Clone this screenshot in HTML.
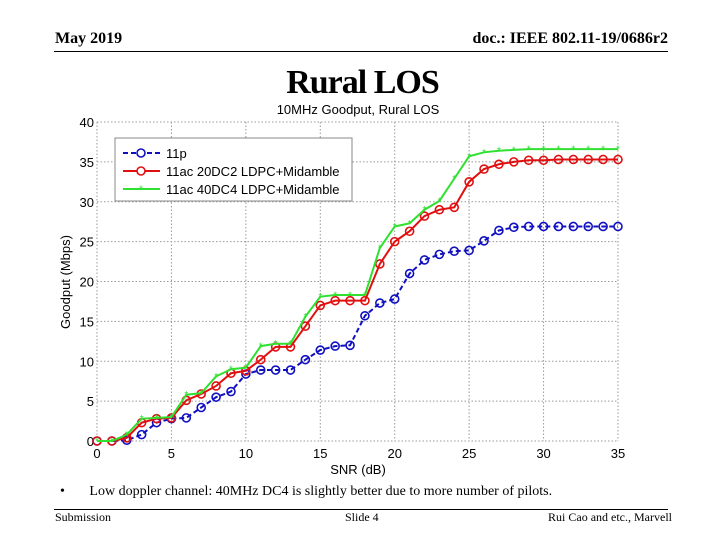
<!DOCTYPE html>
<html><head><meta charset="utf-8"><style>
body{margin:0;background:#fff;width:720px;height:540px;overflow:hidden;position:relative;font-family:"Liberation Serif",serif}
.t{position:absolute;white-space:nowrap}
</style></head><body>
<div class="t" style="left:55px;top:30px;font-size:16px;font-weight:bold">May 2019</div>
<div class="t" style="right:52px;top:30px;font-size:16px;font-weight:bold">doc.: IEEE 802.11-19/0686r2</div>
<div style="position:absolute;left:54px;top:51px;width:614px;height:1px;background:#000"></div>
<div class="t" style="left:0;width:725px;text-align:center;top:64px;font-size:34px;font-weight:bold;letter-spacing:-1px">Rural LOS</div>
<svg id="c" width="720" height="540" style="position:absolute;left:0;top:0" font-family="Liberation Sans, sans-serif"></svg>
<div class="t" style="left:60px;top:484px;font-size:14px">•&nbsp;&nbsp;&nbsp;&nbsp;&nbsp;&nbsp; Low doppler channel: 40MHz DC4 is slightly better due to more number of pilots.</div>
<div style="position:absolute;left:54px;top:509px;width:614px;height:1px;background:#000"></div>
<div class="t" style="left:55px;top:510px;font-size:12px">Submission</div>
<div class="t" style="left:345px;top:510px;font-size:12px">Slide 4</div>
<div class="t" style="right:48px;top:510px;font-size:12px">Rui Cao and etc., Marvell</div>
<script>
const snr=[0,1,2,3,4,5,6,7,8,9,10,11,12,13,14,15,16,17,18,19,20,21,22,23,24,25,26,27,28,29,30,31,32,33,34,35];
const s11p=[0,0,0.1,0.8,2.3,2.8,2.9,4.2,5.5,6.2,8.4,8.9,8.9,8.9,10.2,11.4,11.9,12.0,15.7,17.3,17.8,21.0,22.7,23.4,23.8,23.9,25.1,26.4,26.8,26.9,26.9,26.9,26.9,26.9,26.9,26.9];
const s20dc2=[0,0,0.4,2.3,2.8,2.9,5.1,5.9,6.9,8.5,8.8,10.2,11.8,11.8,14.4,17.0,17.6,17.6,17.6,22.2,25.0,26.3,28.2,29.0,29.3,32.5,34.1,34.7,35.0,35.2,35.2,35.3,35.3,35.3,35.3,35.3];
const s40dc4=[0,0,0.8,2.8,2.9,3.0,5.8,6.0,8.1,9.0,9.2,11.9,12.2,12.2,15.6,18.1,18.3,18.3,18.3,24.2,26.9,27.3,29.0,30.1,32.9,35.7,36.2,36.4,36.5,36.6,36.6,36.6,36.6,36.6,36.6,36.6];
const xTicks=[0,5,10,15,20,25,30,35];
const yTicks=[0,5,10,15,20,25,30,35,40];
const X0=97,X1=618,Y0=441,Y1=122;
const sx=v=>X0+(v-0)/(35-0)*(X1-X0);
const sy=v=>Y0-(v-0)/(40-0)*(Y0-Y1);
const svg=document.getElementById('c');const NS='http://www.w3.org/2000/svg';
function mk(t,a,p){const e=document.createElementNS(NS,t);for(const k in a)e.setAttribute(k,a[k]);(p||svg).appendChild(e);return e;}
let e;
e=mk('text',{x:358,y:114,'text-anchor':'middle','font-size':13});e.textContent='10MHz Goodput, Rural LOS';


xTicks.forEach(v=>{
 e=mk('line',{x1:sx(v),x2:sx(v),y1:Y1,y2:Y0,stroke:'#999','stroke-dasharray':'1.5,2','stroke-width':1});
 
 
 e=mk('text',{x:sx(v),y:Y0+17,'text-anchor':'middle','font-size':13});e.textContent=v;
 
 
});
yTicks.forEach(v=>{
 e=mk('line',{x1:X0,x2:X1,y1:sy(v),y2:sy(v),stroke:'#999','stroke-dasharray':'1.5,2','stroke-width':1});
 
 
 e=mk('text',{x:X0-3,y:sy(v)+5,'text-anchor':'end','font-size':13});e.textContent=v;
 
 
});
e=mk('text',{x:358,y:474,'text-anchor':'middle','font-size':13});e.textContent='SNR (dB)';


e=mk('text',{x:70,y:282,'text-anchor':'middle','font-size':13,transform:'rotate(-90 70 282)'});e.textContent='Goodput (Mbps)';


function series(vals,col,dash,marker,name){
 const pts=snr.map((s,i)=>sx(s)+','+sy(vals[i])).join(' ');
 e=mk('polyline',{points:pts,fill:'none',stroke:col,'stroke-width':2,'stroke-dasharray':dash||'none'});
 
 
 snr.forEach((s,i)=>{
  if(marker==='o'){e=mk('circle',{cx:sx(s),cy:sy(vals[i]),r:4,fill:'none',stroke:col,'stroke-width':1.6});}
  else{e=mk('text',{x:sx(s),y:sy(vals[i])+3.5,'text-anchor':'middle','font-size':10,fill:col});e.textContent='*';}
  
  
 });
}
series(s11p,'#1010c0','5,3','o','series-11p');
series(s20dc2,'#e01010',null,'o','series-20dc2');
series(s40dc4,'#30e030',null,'x','series-40dc4');
e=mk('rect',{x:115,y:138,width:237,height:63,fill:'#fff',stroke:'#888'});


const leg=[['11p','#1010c0','5,3','o'],['11ac 20DC2 LDPC+Midamble','#e01010','none','o'],['11ac 40DC4 LDPC+Midamble','#30e030','none','x']];
leg.forEach((l,i)=>{
 const y=153+i*18;
 e=mk('line',{x1:123,x2:160,y1:y,y2:y,stroke:l[1],'stroke-width':2,'stroke-dasharray':l[2]});
 
 
 if(l[3]==='o'){e=mk('circle',{cx:141,cy:y,r:4,fill:'#fff',stroke:l[1],'stroke-width':1.6});}
 else{e=mk('text',{x:141,y:y+3.5,'text-anchor':'middle','font-size':10,fill:l[1]});e.textContent='*';}
 
 
 e=mk('text',{x:166,y:y+5,'font-size':13});e.textContent=l[0];
 
 
});
</script>
</body></html>
